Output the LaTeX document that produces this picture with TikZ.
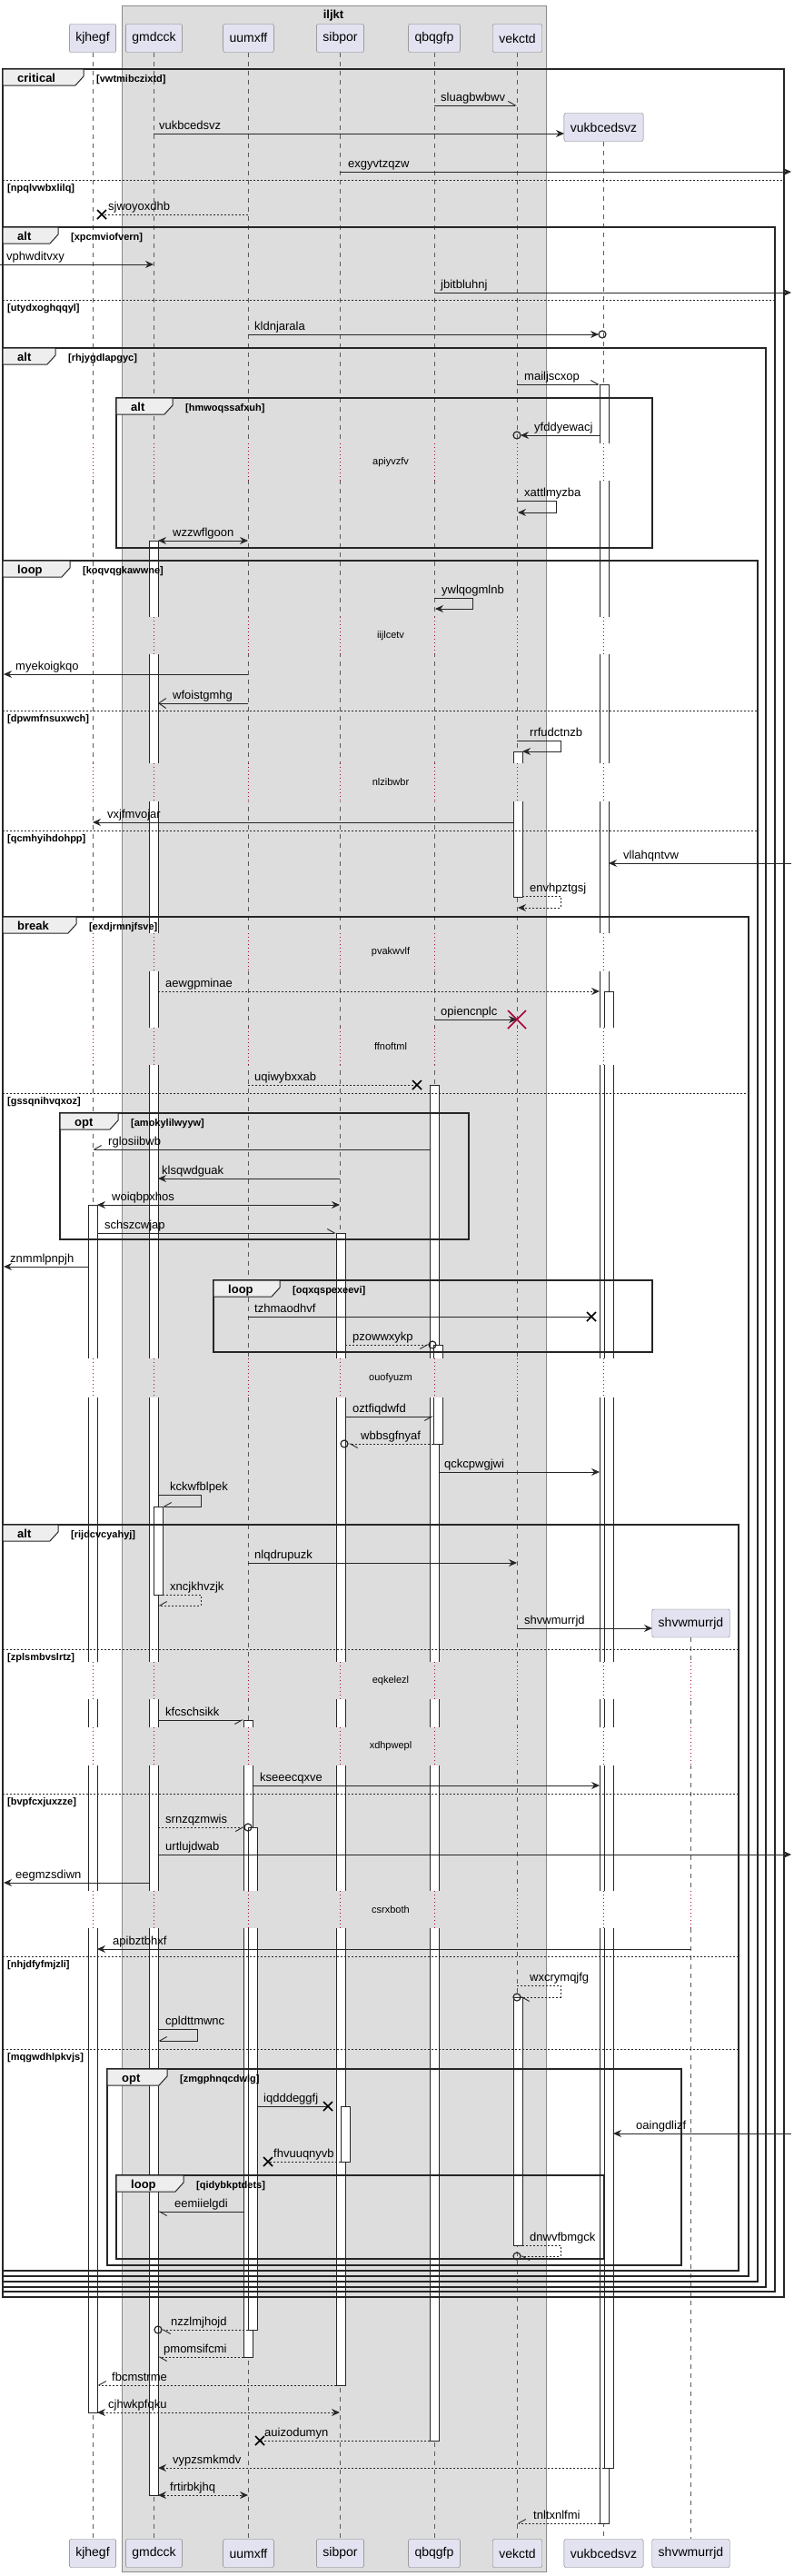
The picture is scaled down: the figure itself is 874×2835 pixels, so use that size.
\documentclass[tikz,border=0pt]{standalone}
\usepackage{fontspec}
\setmainfont{Liberation Sans}
\usetikzlibrary{arrows.meta}
\definecolor{partfill}{HTML}{E2E2F0}
\definecolor{partline}{HTML}{7A7A7A}
\definecolor{boxfill}{HTML}{DDDDDD}
\definecolor{boxline}{HTML}{8A8A8A}
\definecolor{lifegray}{HTML}{5A5A5A}
\definecolor{delayred}{HTML}{A80036}
\definecolor{tabfill}{HTML}{EEEEEE}
\newcommand{\grpframe}[7]{%
  \draw[frameline] (#1,#2) rectangle (#3,#4);
  \filldraw[tabshape] (#1,#2) -- (#5,#2) -- (#5,#2+8) -- (#5-9,#2+18) -- (#1,#2+18) -- cycle;
  \node[tabtxt] at (#1+16,#2+14) {#6};
  \node[condtxt] at (#5+14,#2+14) {#7};}
\newcommand{\grpelse}[4]{%
  \draw[elseline] (#1,#3) -- (#2,#3);
  \node[condtxt] at (#1+5,#3+12) {#4};}
\newcommand{\lostx}[2]{\draw[line width=1.5pt] (#1-5,#2-5) -- (#1+5,#2+5) (#1-5,#2+5) -- (#1+5,#2-5);}
\newcommand{\delayzone}[4]{%
  \fill[white] (6,#1) rectangle (810,#2);
  \fill[boxfill] (134.5,#1) rectangle (601,#2);
  \draw[boxline] (134.5,#1) -- (134.5,#2) (601,#1) -- (601,#2);
  \foreach \lx in {#4} {\draw[delayline] (\lx,#1) -- (\lx,#2);}
  \path (430,#1) -- node[delaytxt] {#3} (430,#2);}

\begin{document}
\begin{tikzpicture}[x=1pt,y=-1pt,
  partbox/.style={draw=partline,fill=partfill,rounded corners=2pt,minimum height=31pt,inner xsep=7pt,inner ysep=0pt,font=\fontsize{14}{16}\selectfont},
  lifeline/.style={draw=lifegray,line width=0.6pt,dash pattern=on 5pt off 5pt},
  delayline/.style={draw=delayred,line width=0.8pt,dash pattern=on 1pt off 3pt},
  actbar/.style={draw=black!85,fill=white,line width=0.8pt},
  msg/.style={draw=black!85,line width=0.9pt},
  rtn/.style={msg,dash pattern=on 2pt off 2pt},
  fhead/.style={-{Stealth[length=9pt,width=8pt,inset=3pt]}},
  bhead/.style={{Stealth[length=9pt,width=8pt,inset=3pt]}-{Stealth[length=9pt,width=8pt,inset=3pt]}},
  hhead/.style={-{Straight Barb[harpoon,length=8pt,width=9pt]}},
  hheadsw/.style={-{Straight Barb[harpoon,swap,length=8pt,width=9pt]}},
  ohead/.style={-{Straight Barb[length=8pt,width=11pt]}},
  lbl/.style={anchor=base west,inner sep=0pt,font=\fontsize{13}{15}\selectfont},
  frameline/.style={draw=black!85,line width=1.5pt},
  tabshape/.style={draw=black!85,fill=tabfill,line width=1pt},
  tabtxt/.style={anchor=base west,inner sep=0pt,font=\bfseries\fontsize{13}{15}\selectfont},
  condtxt/.style={anchor=base west,inner sep=0pt,font=\bfseries\fontsize{11}{13}\selectfont},
  elseline/.style={draw=black!85,line width=0.9pt,dash pattern=on 2pt off 2pt},
  delaytxt/.style={inner sep=0pt,font=\fontsize{11}{13}\selectfont},
  circend/.style={draw=black!85,line width=1.2pt}]
  \useasboundingbox (0,0) rectangle (874,2835);
  \filldraw[fill=boxfill,draw=boxline] (134.5,6) rectangle (601,2830);
  \node[font=\bfseries\fontsize{13}{15}\selectfont] (iljkt) at (367,17) {iljkt};

  \node[partbox] (kjhegf-t) at (102,42) {kjhegf};
  \node[partbox] (gmdcck-t) at (169.5,42) {gmdcck};
  \node[partbox] (uumxff-t) at (273.5,42) {uumxff};
  \node[partbox] (sibpor-t) at (374.5,42) {sibpor};
  \node[partbox] (qbqgfp-t) at (478,42) {qbqgfp};
  \node[partbox] (vekctd-t) at (569.5,42) {vekctd};
  \node[partbox] (vukbcedsvz-t) at (664.5,140) {vukbcedsvz};
  \node[partbox] (shvwmurrjd-t) at (760.5,1786.5) {shvwmurrjd};
  \node[partbox] (kjhegf-b) at (102,2810) {kjhegf};
  \node[partbox] (gmdcck-b) at (169.5,2810) {gmdcck};
  \node[partbox] (uumxff-b) at (273.5,2810) {uumxff};
  \node[partbox] (sibpor-b) at (374.5,2810) {sibpor};
  \node[partbox] (qbqgfp-b) at (478,2810) {qbqgfp};
  \node[partbox] (vekctd-b) at (569.5,2810) {vekctd};
  \node[partbox] (vukbcedsvz-b) at (664.5,2810) {vukbcedsvz};
  \node[partbox] (shvwmurrjd-b) at (760.5,2810) {shvwmurrjd};
  \draw[lifeline] (kjhegf-t) -- (kjhegf-b);
  \draw[lifeline] (gmdcck-t) -- (gmdcck-b);
  \draw[lifeline] (uumxff-t) -- (uumxff-b);
  \draw[lifeline] (sibpor-t) -- (sibpor-b);
  \draw[lifeline] (qbqgfp-t) -- (qbqgfp-b);
  \draw[lifeline] (vekctd-t) -- (vekctd-b);
  \draw[lifeline] (vukbcedsvz-t) -- (vukbcedsvz-b);
  \draw[lifeline] (shvwmurrjd-t) -- (shvwmurrjd-b);

  \draw[actbar] (660,423) rectangle (670,2777);
  \draw[actbar] (665,1091) rectangle (675,2716);
  \draw[actbar] (164,595) rectangle (174,2746);
  \draw[actbar] (169,1658) rectangle (179,1755);
  \draw[actbar] (565,827) rectangle (575,987);
  \draw[actbar] (565,2198) rectangle (575,2471);
  \draw[actbar] (473,1194) rectangle (483,2686);
  \draw[actbar] (477,1480) rectangle (487,1589);
  \draw[actbar] (97,1326) rectangle (107,2655);
  \draw[actbar] (370,1357) rectangle (380,2625);
  \draw[actbar] (375,2318) rectangle (385,2379);
  \draw[actbar] (268,1893) rectangle (278,2594);
  \draw[actbar] (273,2011) rectangle (283,2564);

  \delayzone{488}{529}{apiyvzfv}{102,169,273,374,478,569,664}
  \delayzone{679}{720}{iijlcetv}{102,169,273,374,478,569,664}
  \delayzone{840}{882}{nlzibwbr}{102,169,273,374,478,569,664}
  \delayzone{1027}{1069}{pvakwvlf}{102,169,273,374,478,569,664}
  \delayzone{1131}{1172}{ffnoftml}{102,169,273,374,478,569,664}
  \delayzone{1495}{1538}{ouofyuzm}{102,169,273,374,478,569,664}
  \delayzone{1829}{1870}{eqkelezl}{102,169,273,374,478,569,664,760}
  \delayzone{1901}{1943}{xdhpwepl}{102,169,273,374,478,569,664,760}
  \delayzone{2081}{2122}{csrxboth}{102,169,273,374,478,569,664,760}

  \grpframe{3}{76}{863}{2528}{92}{critical}{[vwtmibczixtd]}
  \grpelse{3}{863}{198}{[npqlvwbxlilq]}
  \grpframe{3}{250}{853}{2522}{64}{alt}{[xpcmviofvern]}
  \grpelse{3}{853}{330}{[utydxoghqqyl]}
  \grpframe{3}{383}{843}{2517}{61}{alt}{[rhjygdlapgyc]}
  \grpframe{128}{438}{718}{603}{190}{alt}{[hmwoqssafxuh]}
  \grpframe{3}{617}{834}{2511}{77}{loop}{[koqvqgkawwne]}
  \grpelse{3}{834}{782}{[dpwmfnsuxwch]}
  \grpelse{3}{834}{914}{[qcmhyihdohpp]}
  \grpframe{3}{1009}{824}{2505}{84}{break}{[exdjrmnjfsve]}
  \grpelse{3}{824}{1203}{[gssqnihvqxoz]}
  \grpframe{66}{1225}{516}{1364}{130}{opt}{[amokylilwyyw]}
  \grpframe{235}{1409}{718}{1488}{308}{loop}{[oqxqspexeevi]}
  \grpframe{3}{1678}{813}{2499}{64}{alt}{[rijdcvcyahyj]}
  \grpelse{3}{813}{1815}{[zplsmbvslrtz]}
  \grpelse{3}{813}{1974}{[bvpfcxjuxzze]}
  \grpelse{3}{813}{2153}{[nhjdfyfmjzli]}
  \grpelse{3}{813}{2255}{[mqgwdhlpkvjs]}
  \grpframe{118}{2277}{750}{2493}{184}{opt}{[zmgphnqcdwlg]}
  \grpframe{128}{2394}{665}{2486}{202}{loop}{[qidybkptdets]}

  \draw[msg,hhead] (478,116) -- (569,116);
  \node[lbl] at (485,111) {sluagbwbwv};
  \draw[msg,fhead] (169,147) -- (621,147);
  \node[lbl] at (175,142) {vukbcedsvz};
  \draw[msg,fhead] (374,189) -- (871,189);
  \node[lbl] at (383,184) {exgyvtzqzw};
  \draw[rtn] (273,236) -- (112,236);
  \lostx{112}{236}
  \node[lbl] at (119,231) {sjwoyoxdhb};
  \draw[msg,fhead] (0,291) -- (169,291);
  \node[lbl] at (7,286) {vphwditvxy};
  \draw[msg,fhead] (478,322) -- (871,322);
  \node[lbl] at (485,317) {jbitbluhnj};
  \draw[msg,fhead] (273,368) -- (659,368);
  \draw[circend] (663,368) circle (4pt);
  \node[lbl] at (280,363) {kldnjarala};
  \draw[msg,hhead] (569,423) -- (660,423);
  \node[lbl] at (577,418) {mailjscxop};
  \draw[msg,fhead] (660,479) -- (573,479);
  \draw[circend] (569,479) circle (4pt);
  \node[lbl] at (588,474) {yfddyewacj};
  \draw[msg,fhead] (569,551) -- (612,551) -- (612,564) -- (570,564);
  \node[lbl] at (577,546) {xattlmyzba};
  \draw[msg,bhead] (174,595) -- (273,595);
  \node[lbl] at (190,590) {wzzwflgoon};
  \draw[msg,fhead] (478,658) -- (520,658) -- (520,670) -- (479,670);
  \node[lbl] at (486,653) {ywlqogmlnb};
  \draw[msg,fhead] (273,742) -- (4,742);
  \node[lbl] at (17,737) {myekoigkqo};
  \draw[msg,ohead] (273,774) -- (174,774);
  \node[lbl] at (190,769) {wfoistgmhg};
  \draw[msg,fhead] (569,815) -- (617,815) -- (617,827) -- (575,827);
  \node[lbl] at (583,810) {rrfudctnzb};
  \draw[msg,fhead] (565,905) -- (102,905);
  \node[lbl] at (118,900) {vxjfmvojar};
  \draw[msg,fhead] (871,950) -- (670,950);
  \node[lbl] at (686,945) {vllahqntvw};
  \draw[rtn,fhead] (575,986) -- (617,986) -- (617,999) -- (570,999);
  \node[lbl] at (583,981) {envhpztgsj};
  \draw[rtn,fhead] (174,1091) -- (660,1091);
  \node[lbl] at (182,1086) {aewgpminae};
  \draw[msg,fhead] (478,1122) -- (569,1122);
  \draw[delayred,line width=1.5pt] (559,1112) -- (579,1132) (559,1132) -- (579,1112);
  \node[lbl] at (485,1117) {opiencnplc};
  \draw[rtn] (273,1194) -- (459,1194);
  \lostx{459}{1194}
  \node[lbl] at (280,1189) {uqiwybxxab};
  \draw[msg,hheadsw] (473,1265) -- (102,1265);
  \node[lbl] at (119,1260) {rglosiibwb};
  \draw[msg,fhead] (374,1297) -- (174,1297);
  \node[lbl] at (178,1292) {klsqwdguak};
  \draw[msg,bhead] (107,1326) -- (374,1326);
  \node[lbl] at (123,1321) {woiqbpxhos};
  \draw[msg,hhead] (107,1357) -- (370,1357);
  \node[lbl] at (115,1352) {schszcwjap};
  \draw[msg,fhead] (97,1394) -- (4,1394);
  \node[lbl] at (11,1389) {znmmlpnpjh};
  \draw[msg] (273,1449) -- (651,1449);
  \lostx{651}{1449}
  \node[lbl] at (280,1444) {tzhmaodhvf};
  \draw[rtn,hheadsw] (380,1480) -- (472,1480);
  \draw[circend] (476,1480) circle (4pt);
  \node[lbl] at (388,1475) {pzowwxykp};
  \draw[msg,hheadsw] (380,1559) -- (477,1559);
  \node[lbl] at (388,1554) {oztfiqdwfd};
  \draw[rtn,hhead] (477,1589) -- (384,1589);
  \draw[circend] (379,1589) circle (4pt);
  \node[lbl] at (397,1584) {wbbsgfnyaf};
  \draw[msg,fhead] (483,1620) -- (660,1620);
  \node[lbl] at (489,1615) {qckcpwgjwi};
  \draw[msg,hheadsw] (174,1645) -- (221,1645) -- (221,1658) -- (179,1658);
  \node[lbl] at (187,1640) {kckwfblpek};
  \draw[msg,fhead] (273,1720) -- (569,1720);
  \node[lbl] at (280,1715) {nlqdrupuzk};
  \draw[rtn,hheadsw] (179,1755) -- (221,1755) -- (221,1767) -- (174,1767);
  \node[lbl] at (187,1750) {xncjkhvzjk};
  \draw[msg,fhead] (569,1792) -- (718,1792);
  \node[lbl] at (577,1787) {shvwmurrjd};
  \draw[msg,hheadsw] (174,1893) -- (268,1893);
  \node[lbl] at (182,1888) {kfcschsikk};
  \draw[msg,fhead] (278,1965) -- (660,1965);
  \node[lbl] at (286,1960) {kseeecqxve};
  \draw[rtn,hheadsw] (174,2011) -- (269,2011);
  \draw[circend] (273,2011) circle (4pt);
  \node[lbl] at (182,2006) {srnzqzmwis};
  \draw[msg,fhead] (174,2041) -- (871,2041);
  \node[lbl] at (182,2036) {urtlujdwab};
  \draw[msg,fhead] (164,2072) -- (4,2072);
  \node[lbl] at (17,2067) {eegmzsdiwn};
  \draw[msg,fhead] (760,2145) -- (107,2145);
  \node[lbl] at (124,2140) {apibztbhxf};
  \draw[rtn,hhead] (569,2185) -- (617,2185) -- (617,2198) -- (573,2198);
  \draw[circend] (569,2198) circle (4pt);
  \node[lbl] at (583,2180) {wxcrymqjfg};
  \draw[msg,hheadsw] (174,2233) -- (217,2233) -- (217,2246) -- (174,2246);
  \node[lbl] at (182,2228) {cpldttmwnc};
  \draw[msg] (283,2318) -- (361,2318);
  \lostx{361}{2318}
  \node[lbl] at (290,2313) {iqdddeggfj};
  \draw[msg,fhead] (871,2348) -- (675,2348);
  \node[lbl] at (700,2343) {oaingdlizf};
  \draw[rtn] (375,2379) -- (295,2379);
  \lostx{295}{2379}
  \node[lbl] at (301,2374) {fhvuuqnyvb};
  \draw[msg,hhead] (269,2434) -- (174,2434);
  \node[lbl] at (192,2429) {eemiielgdi};
  \draw[rtn,hhead] (575,2471) -- (617,2471) -- (617,2483) -- (573,2483);
  \draw[circend] (569,2483) circle (4pt);
  \node[lbl] at (583,2466) {dnwvfbmgck};
  \draw[rtn,hhead] (273,2564) -- (178,2564);
  \draw[circend] (174,2564) circle (4pt);
  \node[lbl] at (188,2559) {nzzlmjhojd};
  \draw[rtn,hhead] (268,2594) -- (174,2594);
  \node[lbl] at (180,2589) {pmomsifcmi};
  \draw[rtn,hheadsw] (370,2625) -- (107,2625);
  \node[lbl] at (123,2620) {fbcmstrme};
  \draw[rtn,bhead] (107,2655) -- (374,2655);
  \node[lbl] at (119,2650) {cjhwkpfqku};
  \draw[rtn] (473,2686) -- (286,2686);
  \lostx{286}{2686}
  \node[lbl] at (291,2681) {auizodumyn};
  \draw[rtn,fhead] (665,2716) -- (174,2716);
  \node[lbl] at (190,2711) {vypzsmkmdv};
  \draw[rtn,bhead] (174,2746) -- (273,2746);
  \node[lbl] at (187,2741) {frtirbkjhq};
  \draw[rtn,hheadsw] (660,2777) -- (569,2777);
  \node[lbl] at (587,2772) {tnltxnlfmi};
\end{tikzpicture}
\end{document}
